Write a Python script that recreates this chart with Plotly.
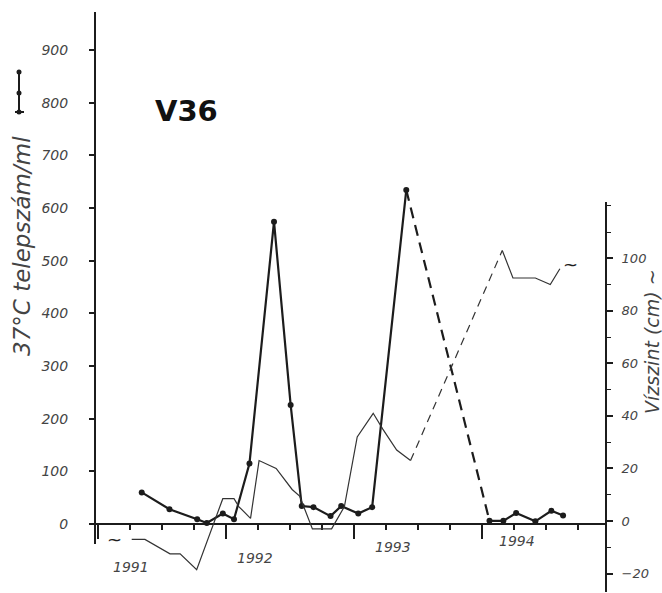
import plotly.graph_objects as go

# ---- data (x = months since Jan 1991) ----
bact_month = [4.1, 6.7, 9.3, 10.2, 11.7, 12.75, 14.2, 16.5, 18.06, 19.1, 20.2, 21.8, 22.8, 24.4, 25.7, 28.9,
              36.7, 38.0, 39.2, 41.0, 42.5, 43.6]
bact_count = [60, 28, 9, 2, 20, 9, 115, 574, 226, 34, 32, 15, 34, 20, 32, 634,
              6, 6, 21, 5, 25, 16]
# index where the dashed (missing data) segment starts / ends
bact_gap = (15, 16)

water_month = [3.16, 4.4, 6.75, 7.7, 9.25, 11.7, 12.75, 13.2, 14.3, 15.1, 16.7, 18.2, 18.9, 20.1, 21.9,
               23.1, 24.3, 25.8, 26.7, 28.0, 29.3,
               37.9, 38.9, 41.0, 42.4, 43.3]
water_level = [-7, -7, -12.5, -12.5, -18.5, 8.5, 8.5, 5.5, 1, 23, 20, 12, 9.5, -3, -3,
               5.5, 32, 41, 35, 27, 23,
               103, 92.5, 92.5, 90, 96]
water_gap = (20, 21)

year_labels = ["1991", "1992", "1993", "1994"]
year_label_month = [3.1, 14.7, 27.7, 39.3]
left_ticks = [0, 100, 200, 300, 400, 500, 600, 700, 800, 900]
right_ticks = [-20, 0, 20, 40, 60, 80, 100]

# ---- layout geometry ----
W, H = 662, 593
L, R, T, B = 96, 57, 12, 1
PW, PH = W - L - R, H - T - B


def px(xp):
    return (xp - L) / PW


def py(yp):
    return (H - B - yp) / PH


INK = "#1c1c1c"
PEN = "#444444"
FONT = "DejaVu Sans"

fig = go.Figure()

a, b = bact_gap
fig.add_trace(go.Scatter(x=bact_month[:a + 1], y=bact_count[:a + 1], mode="lines+markers",
                         line=dict(color=INK, width=2.2), marker=dict(size=6, color=INK),
                         yaxis="y", showlegend=False))
fig.add_trace(go.Scatter(x=bact_month[a:b + 1], y=bact_count[a:b + 1], mode="lines",
                         line=dict(color=INK, width=2.2, dash="11px,7px"),
                         yaxis="y", showlegend=False))
fig.add_trace(go.Scatter(x=bact_month[b:], y=bact_count[b:], mode="lines+markers",
                         line=dict(color=INK, width=2.2), marker=dict(size=6, color=INK),
                         yaxis="y", showlegend=False))

c, d = water_gap
fig.add_trace(go.Scatter(x=water_month[:c + 1], y=water_level[:c + 1], mode="lines",
                         line=dict(color="#333333", width=1.2), yaxis="y2", showlegend=False))
fig.add_trace(go.Scatter(x=water_month[c:d + 1], y=water_level[c:d + 1], mode="lines",
                         line=dict(color="#333333", width=1.2, dash="8px,6px"), yaxis="y2", showlegend=False))
fig.add_trace(go.Scatter(x=water_month[d:], y=water_level[d:], mode="lines",
                         line=dict(color="#333333", width=1.2), yaxis="y2", showlegend=False))

x_lo = (L - 98) / 10.667
x_hi = (L + PW - 98) / 10.667

fig.update_layout(
    width=W, height=H,
    margin=dict(l=L, r=R, t=T, b=B),
    paper_bgcolor="white", plot_bgcolor="rgba(0,0,0,0)",
    xaxis=dict(range=[x_lo, x_hi], anchor="free", position=py(524),
               showline=True, linecolor=INK, linewidth=2, showgrid=False, zeroline=False,
               tick0=0, dtick=12, ticks="outside", ticklen=14, tickwidth=1.5, tickcolor=INK,
               showticklabels=False,
               minor=dict(tick0=0, dtick=3, ticks="outside", ticklen=5, tickwidth=1.5, tickcolor=INK)),
    yaxis=dict(domain=[py(544), 1], range=[(524 - 544) / 0.5267, (524 - T) / 0.5267],
               showline=True, linecolor=INK, linewidth=2, showgrid=False, zeroline=False,
               tickvals=left_ticks, ticks="outside", ticklen=5, tickwidth=1.5, tickcolor=INK,
               ticklabelstandoff=18,
               tickfont=dict(family=FONT, size=14, color=PEN, style="italic")),
    yaxis2=dict(domain=[0, py(202)], range=[(521 - (H - B)) / 2.627, (521 - 202) / 2.627],
                anchor="x", side="right",
                showline=True, linecolor=INK, linewidth=2, showgrid=False, zeroline=False,
                tickvals=right_ticks, ticks="outside", ticklen=6, tickwidth=1.5, tickcolor=INK,
                ticklabelstandoff=6,
                tickfont=dict(family=FONT, size=13, color=PEN, style="italic"),
                minor=dict(tick0=0, dtick=10, ticks="outside", ticklen=4, tickwidth=1.2, tickcolor=INK)),
)

# short extension of the x-axis line left of the y-axis
fig.add_shape(type="line", xref="paper", yref="paper", x0=px(89), x1=px(97), y0=py(524), y1=py(524),
              line=dict(color=INK, width=2))

# small legend glyph for the count series (next to left title)
fig.add_shape(type="line", xref="paper", yref="paper", x0=px(19), x1=px(19), y0=py(72), y1=py(112),
              line=dict(color=INK, width=2))
fig.add_shape(type="line", xref="paper", yref="paper", x0=px(15), x1=px(24), y0=py(112), y1=py(112),
              line=dict(color=INK, width=2))
for yy in (72, 93, 112):
    fig.add_shape(type="circle", xref="paper", yref="paper",
                  x0=px(16.5), x1=px(21.5), y0=py(yy + 2.5), y1=py(yy - 2.5),
                  fillcolor=INK, line=dict(color=INK, width=0))

annotations = [
    dict(text="37°C telepszám/ml", x=px(22), y=py(246), xref="paper", yref="paper",
         xanchor="center", yanchor="middle",
         textangle=-90, showarrow=False, font=dict(family=FONT, size=23, color=PEN, style="italic")),
    dict(text="Vízszint (cm) ~", x=px(652), y=py(342), xref="paper", yref="paper",
         xanchor="center", yanchor="middle",
         textangle=-90, showarrow=False, font=dict(family=FONT, size=19, color=PEN, style="italic")),
    dict(text="<b>V36</b>", x=px(186), y=py(111), xref="paper", yref="paper",
         xanchor="center", yanchor="middle",
         showarrow=False, font=dict(family=FONT, size=29, color="#111111")),
    dict(text="~", x=water_month[0] - 1.6, y=water_level[0], xref="x", yref="y2",
         xanchor="center", yanchor="middle",
         showarrow=False, font=dict(family=FONT, size=18, color=INK)),
    dict(text="~", x=water_month[-1] + 1.0, y=water_level[-1] + 1.5, xref="x", yref="y2",
         xanchor="center", yanchor="middle",
         showarrow=False, font=dict(family=FONT, size=18, color=INK)),
]
for lab, m, yp in zip(year_labels, year_label_month, [567, 558, 547, 541]):
    annotations.append(dict(text=lab, x=m, y=py(yp), xref="x", yref="paper", showarrow=False,
                            xanchor="center", yanchor="middle",
                            font=dict(family=FONT, size=14, color=PEN, style="italic")))
fig.update_layout(annotations=annotations)

fig.write_html("out.html", config={"displayModeBar": False},
               post_script="document.body.style.margin='0';document.body.style.overflow='hidden';")
